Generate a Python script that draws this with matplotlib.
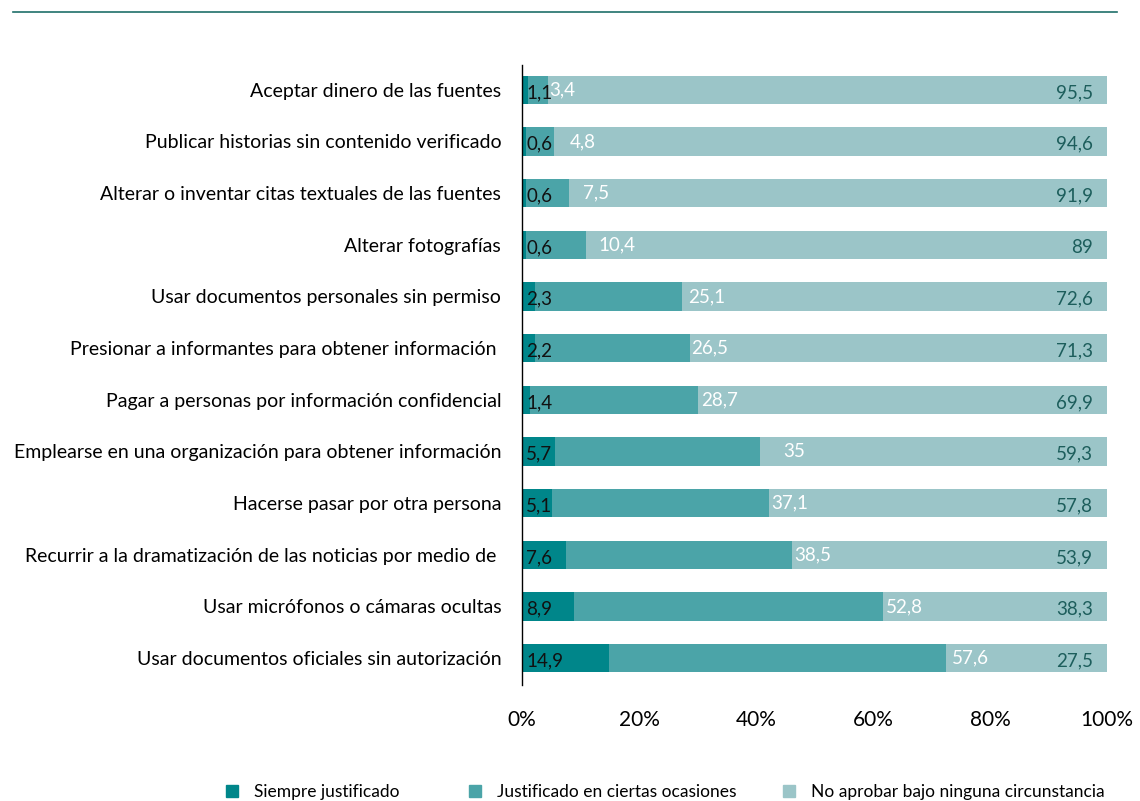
import matplotlib.pyplot as plt
from matplotlib.lines import Line2D
from matplotlib.patches import Patch

categorias = [
    "Aceptar dinero de las fuentes",
    "Publicar historias sin contenido verificado",
    "Alterar o inventar citas textuales de las fuentes",
    "Alterar fotografías",
    "Usar documentos personales sin permiso",
    "Presionar a informantes para obtener información ",
    "Pagar a personas por información confidencial",
    "Emplearse en una organización para obtener información",
    "Hacerse pasar por otra persona",
    "Recurrir a la dramatización de las noticias por medio de ",
    "Usar micrófonos o cámaras ocultas",
    "Usar documentos oficiales sin autorización",
]
siempre = [1.1, 0.6, 0.6, 0.6, 2.3, 2.2, 1.4, 5.7, 5.1, 7.6, 8.9, 14.9]
ciertas = [3.4, 4.8, 7.5, 10.4, 25.1, 26.5, 28.7, 35, 37.1, 38.5, 52.8, 57.6]
nunca = [95.5, 94.6, 91.9, 89, 72.6, 71.3, 69.9, 59.3, 57.8, 53.9, 38.3, 27.5]
series = ["Siempre justificado", "Justificado en ciertas ocasiones",
          "No aprobar bajo ninguna circunstancia"]

# pequeño desplazamiento (pt) de la etiqueta del segundo tramo, como en el original
desfase = [1, 12, 10, 9, 4, 1, 2, 17, 2, 2, 2, 4]

c1, c2, c3 = "#00868a", "#4ba4a8", "#9bc5c8"

plt.rcParams['font.family'] = ['Lato', 'DejaVu Sans']

def fmt(v):
    return ("%g" % v).replace(".", ",")

fig = plt.figure(figsize=(11.4, 8.01), dpi=100)
ax = fig.add_axes([522 / 1140, 1 - 685 / 801, 585 / 1140, 620 / 801])

y = list(range(len(categorias)))
izq3 = [a + b for a, b in zip(siempre, ciertas)]
ax.barh(y, siempre, height=0.55, color=c1)
ax.barh(y, ciertas, left=siempre, height=0.55, color=c2)
ax.barh(y, nunca, left=izq3, height=0.55, color=c3)

for i in y:
    ax.annotate(fmt(siempre[i]), (0, i), xytext=(3, -2), textcoords="offset points",
                ha="left", va="center", fontsize=13.5, color="#111111")
    ax.annotate(fmt(ciertas[i]), (izq3[i], i), xytext=(desfase[i], 0),
                textcoords="offset points", ha="left", va="center",
                fontsize=13.5, color="white")
    ax.annotate(fmt(nunca[i]), (100, i), xytext=(-10, -2), textcoords="offset points",
                ha="right", va="center", fontsize=13.5, color="#1d5e5c")

ax.set_ylim(11.52, -0.48)
ax.set_xlim(0, 100)
ax.set_yticks(y)
ax.set_yticklabels(categorias, fontsize=14)
ax.set_xticks([0, 20, 40, 60, 80, 100])
ax.set_xticklabels(["0%", "20%", "40%", "60%", "80%", "100%"], fontsize=15)
ax.tick_params(axis="y", length=0, pad=15)
ax.tick_params(axis="x", length=0, pad=18)
for s in ["top", "right", "bottom"]:
    ax.spines[s].set_visible(False)
ax.spines["left"].set_color("black")
ax.spines["left"].set_linewidth(1)

fig.add_artist(Line2D([13 / 1140, 1117 / 1140], [1 - 12 / 801, 1 - 12 / 801],
                      color="#1f6f6a", lw=1.2))

# leyenda: una entrada por serie, colocadas como en el original
for x_px, c, nombre in zip([226, 469, 783], (c1, c2, c3), series):
    leg = fig.legend([Patch(color=c)], [nombre], loc="center left",
                     bbox_to_anchor=(x_px / 1140, 1 - 792 / 801),
                     frameon=False, fontsize=12.5, handlelength=0.7, handleheight=0.7,
                     handletextpad=0.9, borderpad=0, borderaxespad=0)

fig.savefig("out.png", dpi=100)
